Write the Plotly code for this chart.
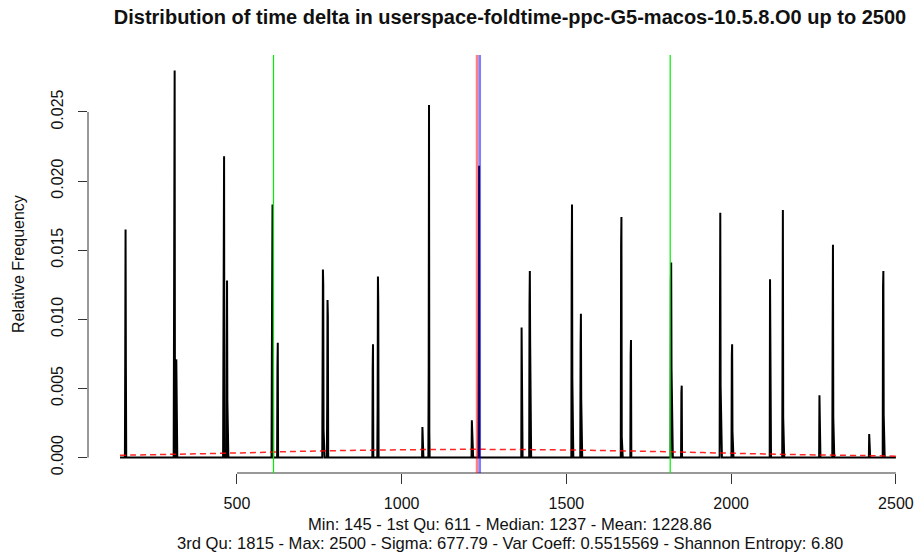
import numpy as np
import plotly.graph_objects as go

# ---------------- data ----------------
title_text = "Distribution of time delta in userspace-foldtime-ppc-G5-macos-10.5.8.O0 up to 2500"
y_title = "Relative Frequency"

value_min = 145
value_max = 2500

# summary statistics printed under the chart
stat_min = 145
stat_q1 = 611
stat_median = 1237
stat_mean = 1228.86
stat_q3 = 1815
stat_max = 2500
stat_sigma = 677.79
stat_varcoeff = 0.5515569
stat_entropy = 6.80

# time delta values that occur, and their relative frequencies
spike_x = [
    161, 162, 163,
    309, 310, 311, 316,
    459, 460, 461, 469, 470, 471,
    606, 607, 608, 609, 623, 624,
    760, 761, 762, 763, 774, 775, 776,
    912, 913, 927, 928, 929,
    1063, 1082, 1083, 1084,
    1213, 1214, 1234, 1235,
    1364, 1365, 1388, 1389, 1390, 1391,
    1516, 1517, 1518, 1543, 1544, 1545,
    1666, 1667, 1668, 1695, 1696,
    1817, 1818, 1819, 1820, 1849, 1850,
    1966, 1967, 1968, 1969, 2002, 2003, 2004,
    2118, 2119, 2156, 2157, 2158,
    2268, 2308, 2309, 2310,
    2419, 2461, 2462, 2463,
]
spike_y = [
    0.0074, 0.0165, 0.0066,
    0.0088, 0.0144, 0.0280, 0.0071,
    0.0078, 0.0138, 0.0218, 0.0074, 0.0128, 0.0042,
    0.0067, 0.0132, 0.0183, 0.0149, 0.0066, 0.0083,
    0.0068, 0.0136, 0.0125, 0.0020, 0.0039, 0.0114, 0.0102,
    0.0064, 0.0082, 0.0036, 0.0131, 0.0112,
    0.0022, 0.0064, 0.0255, 0.0018,
    0.0027, 0.0014, 0.0080, 0.0211,
    0.0094, 0.0023, 0.0110, 0.0135, 0.0084, 0.0022,
    0.0143, 0.0183, 0.0057, 0.0081, 0.0104, 0.0042,
    0.0153, 0.0174, 0.0015, 0.0074, 0.0085,
    0.0126, 0.0141, 0.0065, 0.0043, 0.0047, 0.0052,
    0.0096, 0.0177, 0.0052, 0.0029, 0.0074, 0.0082, 0.0019,
    0.0129, 0.0037, 0.0081, 0.0179, 0.0029,
    0.0045, 0.0090, 0.0154, 0.0029,
    0.0017, 0.0124, 0.0135, 0.0031,
]

# red dashed reference curve
curve_x = [145, 300, 500, 700, 900, 1100, 1230, 1400, 1600, 1800, 2000, 2200, 2400, 2500]
curve_y = [0.00016, 0.00023, 0.00033, 0.00045, 0.00053, 0.00058, 0.00059,
           0.00057, 0.00051, 0.00042, 0.00031, 0.00021, 0.00014, 0.00010]

x_ticks = [500, 1000, 1500, 2000, 2500]
x_tick_labels = ["500", "1000", "1500", "2000", "2500"]
y_ticks = [0.000, 0.005, 0.010, 0.015, 0.020, 0.025]
y_tick_labels = ["0.000", "0.005", "0.010", "0.015", "0.020", "0.025"]

sub_line1 = (f"Min: {stat_min} - 1st Qu: {stat_q1} - Median: {stat_median} - "
             f"Mean: {stat_mean:.2f}")
sub_line2 = (f"3rd Qu: {stat_q3} - Max: {stat_max} - Sigma: {stat_sigma:.2f} - "
             f"Var Coeff: {stat_varcoeff} - Shannon Entropy: {stat_entropy:.2f}")

# ---------------- figure ----------------
W, H = 915, 555
ML, MR, MT, MB = 88, 0, 55, 82
FONT = "Liberation Sans, Arial, Helvetica, sans-serif"

x_all = np.arange(value_min, value_max + 1)
y_all = np.zeros(len(x_all))
y_all[np.array(spike_x) - value_min] = np.array(spike_y)

ymax = max(spike_y)
y_range = [-0.04 * ymax, 1.04 * ymax]
x_range = [48.0, 2558.0]

fig = go.Figure()
fig.add_trace(go.Scatter(
    x=x_all, y=y_all, mode="lines",
    line=dict(color="black", width=2.0),
    hoverinfo="skip", showlegend=False,
))
fig.add_trace(go.Scatter(
    x=curve_x, y=curve_y, mode="lines",
    line=dict(color="rgba(255,0,0,0.85)", width=1.5, dash="6px,4px", shape="spline"),
    hoverinfo="skip", showlegend=False,
))

shapes = []
# axis lines, R style (from first to last tick)
shapes.append(dict(type="line", xref="x", yref="paper", x0=x_ticks[0], x1=x_ticks[-1],
                   y0=0, y1=0, line=dict(color="#333", width=1)))
shapes.append(dict(type="line", xref="paper", yref="y", x0=0, x1=0,
                   y0=y_ticks[0], y1=y_ticks[-1], line=dict(color="#333", width=1)))
# quartiles, mean, median
for xv in (stat_q1, stat_q3):
    shapes.append(dict(type="line", xref="x", yref="paper", x0=xv, x1=xv, y0=0, y1=1,
                       line=dict(color="#00ee00", width=1.2), layer="above"))
shapes.append(dict(type="line", xref="x", yref="paper", x0=stat_mean, x1=stat_mean, y0=0, y1=1,
                   line=dict(color="rgba(255,0,0,0.5)", width=2.6), layer="above"))
shapes.append(dict(type="line", xref="x", yref="paper", x0=stat_median, x1=stat_median, y0=0, y1=1,
                   line=dict(color="rgba(0,0,255,0.5)", width=2.6), layer="above"))

cx = (510 - ML) / (W - ML - MR)

annotations = [
    dict(text=y_title, xref="paper", yref="paper", x=0, y=0.5, xshift=18 - ML,
         textangle=-90, showarrow=False, xanchor="center", yanchor="middle",
         font=dict(family=FONT, size=16, color="#111")),
    dict(text=sub_line1, xref="paper", yref="paper", x=cx, y=0, yshift=-(524 - (H - MB)),
         showarrow=False, xanchor="center", yanchor="middle",
         font=dict(family=FONT, size=16.6, color="#111")),
    dict(text=sub_line2, xref="paper", yref="paper", x=cx, y=0, yshift=-(543 - (H - MB)),
         showarrow=False, xanchor="center", yanchor="middle",
         font=dict(family=FONT, size=16.6, color="#111")),
]

fig.update_layout(
    width=W, height=H,
    margin=dict(l=ML, r=MR, t=MT, b=MB, pad=0),
    paper_bgcolor="white", plot_bgcolor="white",
    title=dict(text=f"<b>{title_text}</b>", x=510 / W, xanchor="center",
               y=1 - 17 / H, yanchor="middle", yref="container",
               font=dict(family=FONT, size=20, color="#111")),
    shapes=shapes, annotations=annotations,
    xaxis=dict(range=x_range, tickmode="array", tickvals=x_ticks, ticktext=x_tick_labels,
               ticks="outside", ticklen=10, tickcolor="#333", tickwidth=1,
               ticklabelstandoff=6,
               showline=False, showgrid=False, zeroline=False,
               tickfont=dict(family=FONT, size=16, color="#111")),
    yaxis=dict(range=y_range, tickmode="array", tickvals=y_ticks, ticktext=y_tick_labels,
               ticks="outside", ticklen=9, tickcolor="#333", tickwidth=1, tickangle=-90,
               ticklabelstandoff=9,
               showline=False, showgrid=False, zeroline=False,
               tickfont=dict(family=FONT, size=16, color="#111")),
)

fig.write_html(
    "out.html",
    config={"displayModeBar": False},
    post_script="document.body.style.margin='0';document.body.style.overflow='hidden';",
)
